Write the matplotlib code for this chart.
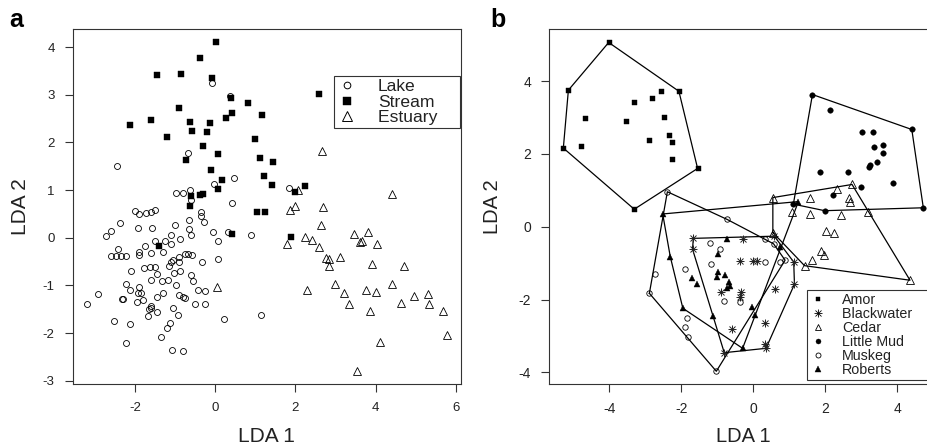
import matplotlib
matplotlib.use("Agg")
import matplotlib.pyplot as plt
from matplotlib.lines import Line2D
from matplotlib.legend_handler import HandlerTuple

plt.rcParams['font.family'] = ['Liberation Sans', 'DejaVu Sans']
plt.rcParams['axes.unicode_minus'] = False

# ---------------- Panel a data ----------------
lake_x = [-0.68, -2.44, 0.47, -0.02, -0.63, 1.85, -0.97, -0.81, -0.59, 0.43, -2.00, -1.89, -1.72, -1.61,
          -1.49, -0.36, -0.34, -0.27, -0.64, -2.37, -2.59, -2.72, -1.92, -1.58, -1.01, -0.66, -0.60, -0.06,
          0.31, 0.06, 0.90, -0.88, -1.11, -1.24, -1.50, -1.09, -2.43, -2.60, -2.48, -2.34, -2.23, -1.90,
          -1.90, -1.75, -1.60, -1.29, -0.91, -1.06, -1.09, -0.89, -0.74, -0.67, -0.58, -0.32, 0.06, -2.09,
          -1.77, -1.62, -1.50, -1.16, -1.03, -0.88, -1.46, -1.61, -1.33, -1.17, -0.61, -0.56, -2.23, -1.89,
          -0.97, -2.93, -3.20, -2.32, -2.29, -2.11, -1.93, -1.84, -1.80, -1.94, -1.61, -1.64, -1.60, -1.67,
          -1.44, -1.45, -1.31, -0.91, -0.81, -0.76, -0.43, -0.24, -0.49, -0.24, -1.06, -0.93, -2.53, -2.13,
          0.23, 1.14, -1.13, -1.21, -1.34, -2.21, -1.08, -0.80, -0.07, 0.37]
lake_y = [1.78, 1.50, 1.25, 1.12, 1.01, 1.05, 0.93, 0.93, 0.79, 0.73, 0.57, 0.50, 0.51, 0.54,
          0.58, 0.53, 0.45, 0.34, 0.38, 0.31, 0.15, 0.03, 0.21, 0.21, 0.27, 0.18, 0.06, 0.13,
          0.13, -0.06, 0.05, -0.03, 0.06, -0.06, -0.06, -0.13, -0.23, -0.39, -0.39, -0.39, -0.39, -0.29,
          -0.37, -0.18, -0.33, -0.31, -0.40, -0.46, -0.51, -0.50, -0.34, -0.34, -0.36, -0.50, -0.45, -0.69,
          -0.64, -0.62, -0.62, -0.60, -0.74, -0.69, -0.77, -0.89, -0.90, -0.89, -0.79, -0.90, -0.98, -1.04,
          -0.99, -1.18, -1.39, -1.28, -1.29, -1.10, -1.16, -1.15, -1.31, -1.34, -1.43, -1.50, -1.48, -1.64,
          -1.55, -1.24, -1.16, -1.21, -1.25, -1.27, -1.10, -1.11, -1.40, -1.40, -1.48, -1.62, -1.74, -1.82,
          -1.70, -1.63, -1.80, -1.90, -2.09, -2.21, -2.36, -2.37, 3.24, 2.98]

stream_x = [-2.11, -1.61, -1.46, -1.19, -0.84, -0.91, -0.62, -0.57, -0.37, 0.01, -0.07, -0.29, -0.19, -0.12,
            0.06, -0.72, -0.09, 0.18, 0.06, 0.26, 0.43, 0.40, -0.59, -0.37, -0.29, 0.83, 1.18, 0.99, 1.13,
            1.45, 1.23, 1.41, 2.58, 2.25, 1.98, -0.62, 1.05, 1.25, 0.41, 1.90, -1.39]
stream_y = [2.36, 2.47, 3.41, 2.11, 3.44, 2.72, 2.42, 2.24, 3.78, 4.11, 3.35, 1.92, 2.21, 2.40,
            1.75, 1.63, 1.42, 1.21, 1.02, 2.51, 2.62, 2.94, 0.88, 0.90, 0.92, 2.82, 2.57, 2.07, 1.67,
            1.58, 1.30, 1.10, 3.01, 1.09, 0.95, 0.67, 0.53, 0.55, 0.07, 0.01, -0.18]

estuary_x = [2.67, 4.41, 2.06, 1.98, 1.86, 2.68, 2.64, 1.80, 2.23, 2.42, 2.60, 3.47, 3.82, 3.60, 3.66,
             4.04, 2.77, 2.84, 2.84, 3.12, 3.91, 4.70, 2.30, 3.00, 3.22, 3.33, 3.77, 4.01, 4.41, 3.86,
             4.63, 4.95, 5.31, 5.33, 5.68, 5.78, 4.12, 3.53, 0.05]
estuary_y = [1.81, 0.92, 1.00, 0.67, 0.58, 0.65, 0.27, -0.13, 0.01, -0.04, -0.19, 0.08, 0.13, -0.10, -0.06,
             -0.13, -0.42, -0.45, -0.59, -0.41, -0.56, -0.59, -1.10, -0.98, -1.17, -1.39, -1.09, -1.14, -0.97,
             -1.53, -1.38, -1.23, -1.18, -1.39, -1.53, -2.05, -2.19, -2.79, -1.04]

# ---------------- Panel b data ----------------
amor_x = [-4.02, -5.14, -5.28, -4.69, -4.78, -3.33, -3.53, -2.81, -2.58, -2.07, -2.47, -2.35, -2.25, -2.89,
          -2.25, -1.55, -3.31]
amor_y = [5.06, 3.75, 2.16, 2.98, 2.21, 3.42, 2.90, 3.53, 3.72, 3.72, 3.00, 2.51, 2.34, 2.38, 1.85, 1.60, 0.48]

blackwater_x = [-1.67, -1.69, -0.29, 0.58, -0.37, -0.02, 0.09, 1.12, 1.14, 0.60, -0.35, -0.36, -0.90, 0.31,
                0.31, 0.35, -0.60, -0.81]
blackwater_y = [-0.32, -0.62, -0.34, -0.26, -0.93, -0.93, -0.93, -0.97, -1.58, -1.70, -1.79, -1.92, -1.80,
                -2.64, -3.21, -3.34, -2.81, -3.46]

cedar_x = [0.54, 2.74, 2.31, 1.56, 2.65, 2.69, 1.07, 1.57, 2.43, 3.19, 2.03, 2.24, 1.89, 1.95, 1.64, 1.42,
           4.35, 0.54]
cedar_y = [0.80, 1.16, 1.03, 0.80, 0.80, 0.69, 0.41, 0.34, 0.32, 0.41, -0.11, -0.17, -0.67, -0.78, -0.92,
           -1.07, -1.47, -0.16]

littlemud_x = [1.64, 2.14, 4.40, 3.01, 3.31, 3.35, 3.59, 3.59, 3.42, 3.25, 3.22, 1.84, 2.64, 3.87, 2.99,
               2.22, 4.72, 1.98, 1.11]
littlemud_y = [3.63, 3.21, 2.67, 2.60, 2.59, 2.20, 2.25, 2.02, 1.79, 1.69, 1.63, 1.49, 1.49, 1.21, 1.09,
               0.86, 0.52, 0.44, 0.62]

muskeg_x = [-2.39, -0.73, -1.20, -0.93, -1.18, -1.91, -2.74, -2.89, -1.84, -1.90, -1.82, -1.03, -0.81,
            -0.36, 0.32, 0.56, 0.32, 0.75, 0.88]
muskeg_y = [0.96, 0.20, -0.44, -0.60, -1.02, -1.15, -1.29, -1.83, -2.52, -2.75, -3.02, -3.97, -2.04,
            -2.07, -0.35, -0.47, -0.97, -0.97, -0.92]

roberts_x = [-2.52, -2.31, -1.96, -1.13, -0.74, -0.98, -1.71, -1.57, -0.97, -0.79, -1.00, -0.69, -0.65,
             -0.74, -0.04, 0.05, -0.30, 0.74, 1.25]
roberts_y = [0.35, -0.82, -2.24, -2.44, -0.35, -0.75, -1.40, -1.56, -1.24, -1.33, -1.37, -1.51, -1.63,
             -1.67, -2.20, -2.43, -3.34, -0.55, 0.69]

labels_a = ["Lake", "Stream", "Estuary"]
labels_b = ["Amor", "Blackwater", "Cedar", "Little Mud", "Muskeg", "Roberts"]


def convex_hull(xs, ys):
    pts = sorted(set(zip(xs, ys)))

    def cross(o, a, b):
        return (a[0] - o[0]) * (b[1] - o[1]) - (a[1] - o[1]) * (b[0] - o[0])

    lower = []
    for p in pts:
        while len(lower) >= 2 and cross(lower[-2], lower[-1], p) <= 0:
            lower.pop()
        lower.append(p)
    upper = []
    for p in reversed(pts):
        while len(upper) >= 2 and cross(upper[-2], upper[-1], p) <= 0:
            upper.pop()
        upper.append(p)
    h = lower[:-1] + upper[:-1]
    h.append(h[0])
    return [p[0] for p in h], [p[1] for p in h]


W, H = 927, 446
fig = plt.figure(figsize=(W / 100, H / 100), dpi=100)

FRAME = '#333333'
TXT = '#222222'


def fx(px):
    return px / W


def fy(py):
    return 1 - py / H


def style_axes(ax, labelsize):
    for s in ax.spines.values():
        s.set_color(FRAME)
        s.set_linewidth(0.8)
    ax.tick_params(direction='out', length=6, width=0.8, pad=7, colors=FRAME,
                   labelcolor=TXT, labelsize=labelsize)


# ---------------- Panel a ----------------
axa = fig.add_axes([fx(72.7), fy(384), fx(461) - fx(72.7), fy(29) - fy(384)])
axa.plot(lake_x, lake_y, 'o', ms=4.3, mfc='none', mec='black', mew=0.6, ls='none')
axa.plot(stream_x, stream_y, 's', ms=4.4, mfc='black', mec='black', mew=0.3, ls='none')
axa.plot(estuary_x, estuary_y, '^', ms=6.0, mfc='none', mec='black', mew=0.6, ls='none')
axa.set_xlim(-3.55, 6.13)
axa.set_ylim(-3.07, 4.38)
axa.set_xticks([-2, 0, 2, 4, 6])
axa.set_yticks([-3, -2, -1, 0, 1, 2, 3, 4])
style_axes(axa, 9.5)

handles_a = [
    Line2D([], [], marker='o', ms=4.8, mfc='none', mec='black', mew=0.7, ls='none'),
    Line2D([], [], marker='s', ms=5.2, mfc='black', mec='black', mew=0.3, ls='none'),
    Line2D([], [], marker='^', ms=6.6, mfc='none', mec='black', mew=0.7, ls='none'),
]
leg_a = axa.legend(handles_a, [labels_a[0], labels_a[1], labels_a[2] + "    "],
                   loc='upper left', bbox_to_anchor=(fx(334.3), fy(75.7)),
                   bbox_transform=fig.transFigure, borderaxespad=0, fontsize=12.6,
                   frameon=True, fancybox=False, framealpha=1, edgecolor=FRAME,
                   borderpad=0.2, handlelength=1.1, handletextpad=1.2, labelspacing=0.0)
leg_a.get_frame().set_linewidth(0.8)
for t in leg_a.get_texts():
    t.set_color(TXT)

# ---------------- Panel b ----------------
axb = fig.add_axes([fx(549.3), fy(384), fx(937) - fx(549.3), fy(29) - fy(384)])
axb.set_xlim(-5.67, 5.10)
axb.set_ylim(-4.32, 5.43)
axb.set_xticks([-4, -2, 0, 2, 4])
axb.set_yticks([-4, -2, 0, 2, 4])
style_axes(axb, 10)

groups = [
    (amor_x, amor_y),
    (blackwater_x, blackwater_y),
    (cedar_x, cedar_y),
    (littlemud_x, littlemud_y),
    (muskeg_x, muskeg_y),
    (roberts_x, roberts_y),
]
for gx, gy in groups:
    hx, hy = convex_hull(gx, gy)
    axb.plot(hx, hy, '-', color='black', lw=0.9, zorder=2)

axb.plot(amor_x, amor_y, 's', ms=3.6, mfc='black', mec='black', mew=0.3, ls='none', zorder=3)
axb.plot(blackwater_x, blackwater_y, '+', ms=5.6, mec='#222222', mew=0.7, ls='none', zorder=3)
axb.plot(blackwater_x, blackwater_y, 'x', ms=4.0, mec='#222222', mew=0.7, ls='none', zorder=3)
axb.plot(cedar_x, cedar_y, '^', ms=5.6, mfc='none', mec='black', mew=0.6, ls='none', zorder=3)
axb.plot(littlemud_x, littlemud_y, 'o', ms=4.0, mfc='black', mec='black', mew=0.3, ls='none', zorder=3)
axb.plot(muskeg_x, muskeg_y, 'o', ms=3.9, mfc='none', mec='black', mew=0.6, ls='none', zorder=3)
axb.plot(roberts_x, roberts_y, '^', ms=4.8, mfc='black', mec='black', mew=0.3, ls='none', zorder=3)

handles_b = [
    Line2D([], [], marker='s', ms=3.4, mfc='black', mec='black', mew=0.3, ls='none'),
    (Line2D([], [], marker='+', ms=5.2, mec='black', mew=0.6, ls='none'),
     Line2D([], [], marker='x', ms=3.7, mec='black', mew=0.6, ls='none')),
    Line2D([], [], marker='^', ms=4.8, mfc='none', mec='black', mew=0.6, ls='none'),
    Line2D([], [], marker='o', ms=3.6, mfc='black', mec='black', mew=0.3, ls='none'),
    Line2D([], [], marker='o', ms=3.6, mfc='none', mec='black', mew=0.6, ls='none'),
    Line2D([], [], marker='^', ms=4.6, mfc='black', mec='black', mew=0.3, ls='none'),
]
labels_b_padded = [lab + ("    " if lab == "Blackwater" else "") for lab in labels_b]
leg_b = axb.legend(handles_b, labels_b_padded, handler_map={tuple: HandlerTuple(ndivide=1)},
                   loc='upper left', bbox_to_anchor=(fx(807.3), fy(290)),
                   bbox_transform=fig.transFigure, borderaxespad=0, fontsize=10.3,
                   frameon=True, fancybox=False, framealpha=1, edgecolor=FRAME,
                   borderpad=0.2, handlelength=1.1, handletextpad=1.15, labelspacing=0.0)
leg_b.get_frame().set_linewidth(0.8)
for t in leg_b.get_texts():
    t.set_color(TXT)

# ---------------- Labels ----------------
fig.text(fx(266.8), fy(441.7), "LDA 1", ha='center', va='baseline', fontsize=15, color=TXT)
fig.text(fx(743), fy(441.7), "LDA 1", ha='center', va='baseline', fontsize=14.5, color=TXT)
fig.text(fx(20), fy(206.5), "LDA 2", ha='center', va='center', rotation=90, fontsize=15, color=TXT)
fig.text(fx(492), fy(206.5), "LDA 2", ha='center', va='center', rotation=90, fontsize=14.5, color=TXT)
fig.text(fx(9), fy(26.7), "a", ha='left', va='baseline', fontsize=18, fontweight='bold', color='black')
fig.text(fx(490), fy(26.7), "b", ha='left', va='baseline', fontsize=18, fontweight='bold', color='black')

fig.savefig("out.png", dpi=100)
